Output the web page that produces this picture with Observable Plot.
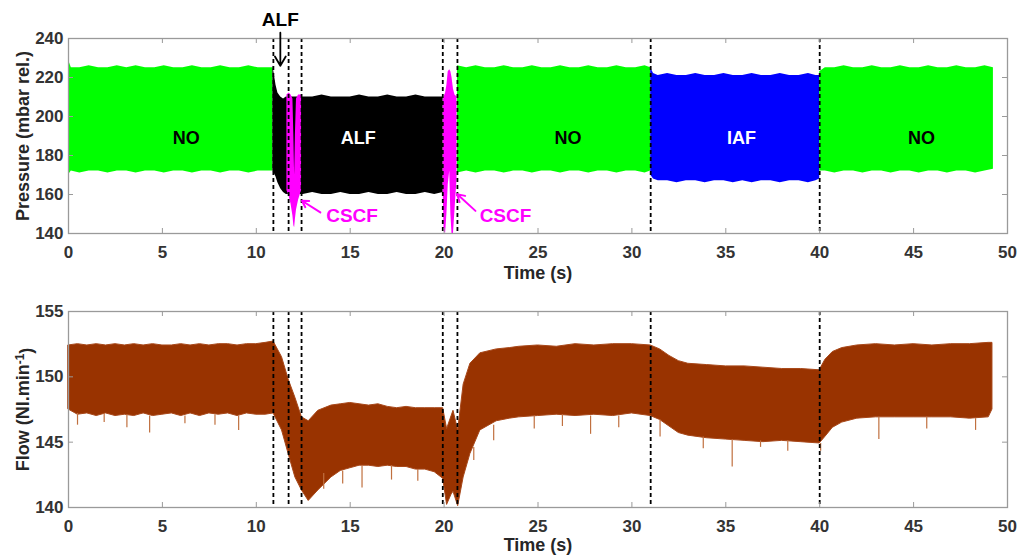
<!DOCTYPE html>
<html><head><meta charset="utf-8">
<script src="https://cdn.jsdelivr.net/npm/d3@7"></script>
<script src="https://cdn.jsdelivr.net/npm/@observablehq/plot@0.6"></script>
<style>body{margin:0;background:#fff} #chart svg{display:block}</style>
</head><body><div id="chart"></div>
<script>
// ---------- data ----------
const timeTicks = [0, 5, 10, 15, 20, 25, 30, 35, 40, 45, 50];
const pressureTicks = [140, 160, 180, 200, 220, 240];
const flowTicks = [140, 145, 150, 155];
const eventTimes = [10.91, 11.72, 12.41, 19.93, 20.71, 31.0, 40.0];

const regimes = ["NO", "ALF", "CSCF", "IAF"];
const regimeColors = ["#00ff00", "#000000", "#ff00ff", "#0000ff"];

// pressure envelope [time s, low mbar, high mbar]
const pressNO1 = [[0,170,229],[0.15,172,225],[0.6,171,225],[1.1,172,226],[1.6,172,225],[2.1,171,225],[2.6,172,226],[3.1,172,225],[3.6,171,226],[4.1,172,225],[4.6,172,225],[5.1,171,226],[5.6,172,225],[6.1,172,225],[6.6,171,226],[7.1,172,225],[7.6,172,225],[8.1,171,226],[8.6,172,225],[9.1,172,225],[9.6,171,226],[10.1,172,225],[10.6,172,225],[10.88,172,225]];
const pressALF = [[10.88,172,226],[10.95,171,222],[11.05,169,216],[11.15,166,212],[11.3,163,210],[11.45,161,209],[11.6,160,210],[12.0,160,210],[12.5,160,210],[13,161,210],[13.5,160,211],[14,160,210],[14.5,161,210],[15,160,210],[15.5,160,211],[16,161,210],[16.5,160,210],[17,160,211],[17.5,161,210],[18,160,210],[18.5,160,211],[19,161,210],[19.5,160,210],[19.95,161,210]];
const pressCSCF1 = [[11.63,162,211],[11.75,159,212],[11.85,155,211],[11.95,149,209],[12.0,144,190],[12.04,143,170],[12.08,147,190],[12.14,152,209],[12.25,157,211],[12.41,162,211]];
const pressCSCF2 = [[19.95,163,208],[20.0,141,210],[20.08,140,212],[20.15,150,216],[20.22,165,223],[20.3,172,224],[20.36,150,223],[20.42,140,220],[20.5,140,214],[20.58,152,211],[20.69,168,210]];
const pressNO2 = [[20.71,171,226],[21.2,172,225],[21.7,171,226],[22.2,172,225],[22.7,172,225],[23.2,171,226],[23.7,172,225],[24.2,172,225],[24.7,171,226],[25.2,172,225],[25.7,172,225],[26.2,171,226],[26.7,172,225],[27.2,172,225],[27.7,171,226],[28.2,172,225],[28.7,172,225],[29.2,171,226],[29.7,172,225],[30.2,172,225],[30.7,171,226],[31.0,172,225]];
const pressIAF = [[31.0,170,225],[31.15,168,222],[31.4,167,221],[31.9,167,222],[32.4,166,221],[32.9,167,221],[33.4,167,222],[33.9,166,221],[34.4,167,221],[34.9,167,222],[35.4,166,221],[35.9,167,221],[36.4,166,222],[36.9,167,221],[37.4,167,221],[37.9,166,222],[38.4,167,221],[38.9,167,221],[39.4,166,222],[39.8,167,221],[40.0,168,221]];
const pressNO3 = [[40.0,172,223],[40.3,172,225],[40.8,171,225],[41.3,172,226],[41.8,172,225],[42.3,171,225],[42.8,172,226],[43.3,172,225],[43.8,171,225],[44.3,172,226],[44.8,172,225],[45.3,171,225],[45.8,172,226],[46.3,172,225],[46.8,171,225],[47.3,172,226],[47.8,172,225],[48.3,171,225],[48.8,172,226],[49.25,173,225]];

// flow envelope [time s, low, high] (Nl/min)
const flowEnvelope = [[0,147.5,152.4],[0.5,147.1,152.5],[1,147.2,152.4],[1.5,147.0,152.5],[2,147.2,152.4],[2.5,147.0,152.5],[3,147.1,152.4],[3.5,147.0,152.5],[4,147.2,152.4],[4.5,147.0,152.5],[5,147.1,152.4],[5.5,147.2,152.4],[6,147.0,152.5],[6.5,147.2,152.4],[7,147.0,152.5],[7.5,147.2,152.4],[8,147.1,152.5],[8.5,147.2,152.5],[9,147.0,152.4],[9.5,147.2,152.5],[10,147.1,152.5],[10.5,147.1,152.6],[10.92,147.2,152.7],[11.37,145.9,151.5],[11.72,144.1,149.8],[12.08,142.3,148.4],[12.43,141.3,146.9],[12.79,140.5,146.6],[13.3,141.3,147.4],[14,142.3,147.8],[14.5,142.8,147.9],[15,143.0,148.0],[15.5,143.2,147.9],[16,143.2,147.8],[16.5,143.1,147.9],[17,143.2,147.7],[17.5,143.1,147.6],[18,143.1,147.7],[18.5,142.9,147.6],[19,142.9,147.6],[19.5,142.7,147.6],[19.95,142.2,147.6],[20.16,140.2,146.0],[20.4,141.0,147.0],[20.5,141.2,147.4],[20.75,140.1,145.9],[21.04,142.3,149.4],[21.4,144.1,151.0],[21.93,145.9,151.8],[22.8,146.6,152.1],[23.5,146.8,152.2],[24,146.9,152.3],[25,147.0,152.4],[26,147.1,152.3],[27,147.0,152.5],[28,147.1,152.4],[29,147.0,152.5],[30,147.2,152.5],[31,147.0,152.4],[31.5,146.7,152.1],[32,146.2,151.6],[32.5,145.7,151.2],[33,145.5,151.0],[34,145.3,150.9],[35,145.2,150.8],[36,145.1,150.8],[37,145.0,150.7],[38,145.1,150.6],[39,145.0,150.6],[40,144.9,150.5],[40.3,145.4,151.3],[40.7,146.1,151.9],[41.2,146.5,152.2],[42,146.8,152.4],[43,146.9,152.5],[44,146.9,152.4],[45,146.9,152.5],[46,146.9,152.4],[47,146.9,152.5],[48,146.8,152.5],[49,146.9,152.6],[49.2,147.5,152.6]];
// isolated downward flow spikes [time s, spike value, band edge]
const flowSpikes = [[0.48,146.3,147.2],[1.9,146.5,147.2],[3.11,146.1,147.1],[4.32,145.7,147.0],[6.2,146.4,147.0],[7.8,146.3,147.1],[9.06,145.9,147.0],[13.59,141.4,142.6],[14.6,141.8,142.8],[15.63,141.5,143.2],[17.2,142.1,143.2],[18.6,142.0,142.9],[21.58,143.6,144.6],[22.64,145.1,146.3],[24.8,146.0,147.0],[26.3,146.2,147.1],[27.8,145.6,147.0],[29.3,146.1,147.0],[31.5,145.4,146.7],[33.8,144.5,145.4],[35.34,143.1,145.2],[36.85,144.6,145.1],[38.3,144.3,145.1],[40.05,144.3,144.9],[43.15,145.2,146.9],[45.7,146.0,146.9],[48.3,145.9,146.8]];

const regionLabels = [
  {label: "NO", t: 6.27, p: 189, ink: "dark"},
  {label: "ALF", t: 15.43, p: 189, ink: "light"},
  {label: "NO", t: 26.6, p: 189, ink: "dark"},
  {label: "IAF", t: 35.83, p: 189, ink: "light"},
  {label: "NO", t: 45.42, p: 189, ink: "dark"}
];
const cscfLabels = [{label: "CSCF", t: 15.1, p: 149.1}, {label: "CSCF", t: 23.27, p: 149.1}];
const cscfArrows = [{t1: 13.41, p1: 150.8, t2: 12.43, p2: 156.8}, {t1: 21.67, p1: 151.6, t2: 20.69, p2: 160.2}];
const alfLabel = [{label: "ALF", t: 11.28, p: 249.6}];
const alfArrow = [{t1: 11.28, p1: 243, t2: 11.28, p2: 226}];

// ---------- build ----------
const segments = [["NO", pressNO1], ["ALF", pressALF], ["CSCF", pressCSCF1], ["CSCF", pressCSCF2], ["NO", pressNO2], ["IAF", pressIAF], ["NO", pressNO3]];
const pressure = segments.flatMap(([regime, rows], i) => rows.map(([t, lo, hi]) => ({t, lo, hi, regime, seg: i})));

const FONT = "'Liberation Sans', Arial, Helvetica, sans-serif";
const FRAME = "#9a9a9a";
const TICKTXT = "#333333";
const W = 1019, ML = 68, MR = 12;

function frameMarks(yTicks, innerH, innerW) {
  return [
    Plot.frame({stroke: FRAME, strokeWidth: 1.3}),
    Plot.tickX(timeTicks, {x: d => d, stroke: FRAME, insetTop: innerH - 5}),
    Plot.tickX(timeTicks, {x: d => d, stroke: FRAME, insetBottom: innerH - 5}),
    Plot.tickY(yTicks, {y: d => d, stroke: FRAME, insetRight: innerW - 5}),
    Plot.tickY(yTicks, {y: d => d, stroke: FRAME, insetLeft: innerW - 5}),
    Plot.axisX(timeTicks, {tickSize: 0, tickPadding: 12, label: null, fontSize: 17, fontWeight: "bold", fill: TICKTXT}),
    Plot.axisY(yTicks, {tickSize: 0, tickPadding: 5, label: null, fontSize: 17, fontWeight: "bold", fill: TICKTXT})
  ];
}
function axisTitle(text, anchor, offset) {
  return anchor === "bottom"
    ? Plot.text([text], {frameAnchor: "bottom", lineAnchor: "middle", textAnchor: "middle", dy: offset, fontSize: 18, fontWeight: "bold", fill: "#262626"})
    : Plot.text([text], {frameAnchor: "left", lineAnchor: "middle", textAnchor: "middle", dx: -offset, rotate: -90, fontSize: 18, fontWeight: "bold", fill: "#262626"});
}

// top: pressure
const H1 = 285, MT1 = 38, MB1 = 52;
const pressurePlot = Plot.plot({
  width: W, height: H1, marginTop: MT1, marginBottom: MB1, marginLeft: ML, marginRight: MR,
  style: {fontFamily: FONT, background: "white"},
  x: {domain: [0, 50]},
  y: {domain: [140, 240]},
  color: {domain: regimes, range: regimeColors},
  marks: [
    Plot.areaY(pressure, {x: "t", y1: "lo", y2: "hi", fill: "regime", z: "seg"}),
    Plot.ruleX(eventTimes, {x: d => d, stroke: "black", strokeWidth: 1.8, strokeDasharray: "4,3"}),
    ...frameMarks(pressureTicks, H1 - MT1 - MB1, W - ML - MR),
    Plot.text(regionLabels.filter(d => d.ink === "dark"), {x: "t", y: "p", text: "label", fill: "black", fontSize: 18, fontWeight: "bold"}),
    Plot.text(regionLabels.filter(d => d.ink === "light"), {x: "t", y: "p", text: "label", fill: "white", fontSize: 18, fontWeight: "bold"}),
    Plot.text(cscfLabels, {x: "t", y: "p", text: "label", fill: "#ff00ff", fontSize: 19, fontWeight: "bold"}),
    Plot.arrow(cscfArrows, {x1: "t1", y1: "p1", x2: "t2", y2: "p2", stroke: "#ff00ff", strokeWidth: 2, headLength: 9}),
    Plot.text(alfLabel, {x: "t", y: "p", text: "label", fill: "black", fontSize: 19, fontWeight: "bold"}),
    Plot.arrow(alfArrow, {x1: "t1", y1: "p1", x2: "t2", y2: "p2", stroke: "black", strokeWidth: 1.8, headLength: 9}),
    axisTitle("Time (s)", "bottom", 40),
    axisTitle("Pressure (mbar rel.)", "left", 45)
  ]
});

// bottom: flow
const H2 = 273, MT2 = 26, MB2 = 51;
const flowPlot = Plot.plot({
  width: W, height: H2, marginTop: MT2, marginBottom: MB2, marginLeft: ML, marginRight: MR,
  style: {fontFamily: FONT, background: "white"},
  x: {domain: [0, 50]},
  y: {domain: [140, 155]},
  marks: [
    Plot.areaY(flowEnvelope, {x: d => d[0], y1: d => d[1], y2: d => d[2], fill: "#993300", stroke: "#a8481a", strokeWidth: 1}),
    Plot.ruleX(flowSpikes, {x: d => d[0], y1: d => d[1], y2: d => d[2], stroke: "#c0703f", strokeWidth: 1.2}),
    Plot.ruleX(eventTimes, {x: d => d, stroke: "black", strokeWidth: 1.8, strokeDasharray: "4,3"}),
    ...frameMarks(flowTicks, H2 - MT2 - MB2, W - ML - MR),
    axisTitle("Time (s)", "bottom", 38),
    axisTitle("Flow (Nl.min-1)", "left", 45)
  ]
});

// superscript for the flow unit
d3.select(flowPlot).selectAll("text").filter(function () { return this.textContent === "Flow (Nl.min-1)"; })
  .each(function () {
    const t = d3.select(this);
    t.text(null);
    t.append("tspan").text("Flow (Nl.min");
    t.append("tspan").attr("dy", "-0.45em").attr("font-size", "12").text("-1");
    t.append("tspan").attr("dy", "0.45em").text(")");
  });

document.getElementById("chart").append(pressurePlot, flowPlot);
</script></body></html>
